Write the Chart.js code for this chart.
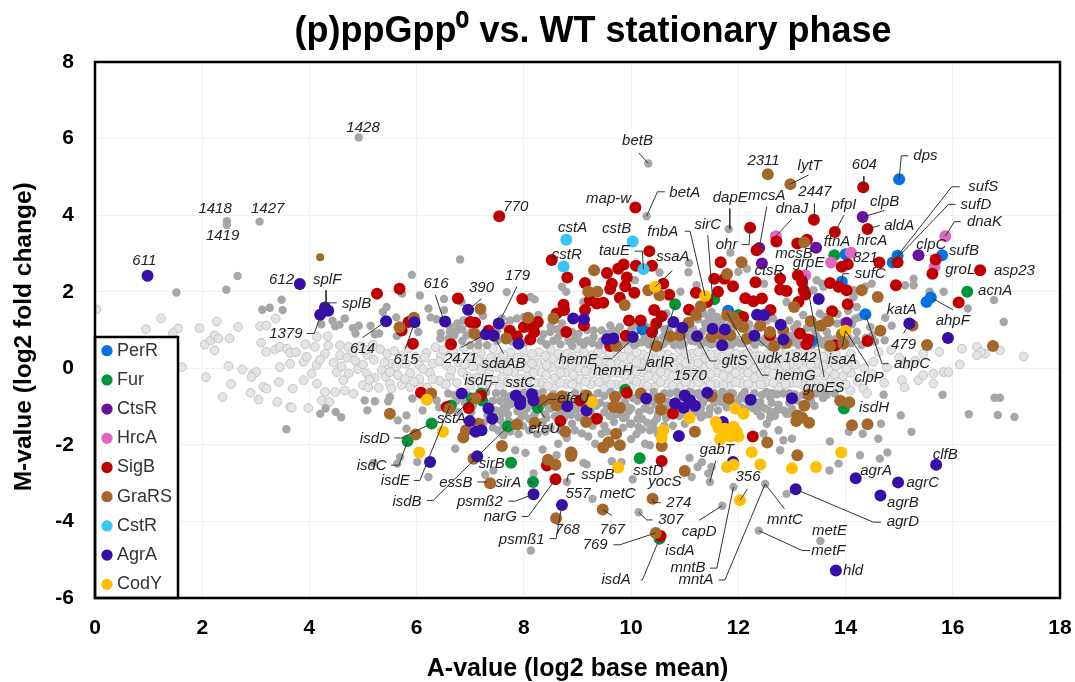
<!DOCTYPE html>
<html>
<head>
<meta charset="utf-8">
<title>(p)ppGpp0 vs. WT stationary phase</title>
<script src="https://cdn.jsdelivr.net/npm/chart.js@4"></script>
<style>
  body { margin: 0; background: #fff; }
  canvas { display: block; }
</style>
</head>
<body>
<canvas id="myChart" width="1075" height="682"></canvas>
<script>
// Values: [A-value, M-value]
const perR = [[15.0,4.94],[14.97,2.94],[14.88,2.76],[14.0,2.98],[15.8,2.95],[15.59,1.85],[15.51,1.73],[14.37,1.41],[13.93,2.26],[10.21,1.02],[11.81,1.5],[13.37,.71]];
const fur = [[13.79,2.95],[16.27,2.0],[10.82,1.67],[11.55,1.8],[12.0,1.39],[7.2,-.66],[7.22,-.84],[7.03,-.79],[6.64,-.97],[6.28,-1.44],[5.83,-1.9],[7.7,-1.52],[7.76,-2.47],[8.17,-2.97],[8.26,-1.03],[10.16,-2.35],[13.97,-1.05],[10.53,-4.45],[9.89,-.56]];
const ctsR = [[14.32,3.95],[12.39,3.14],[13.45,3.15],[12.44,2.74],[15.36,2.95],[14.02,1.19]];
const hrcA = [[12.7,3.45],[14.1,3.02],[13.73,2.76],[13.25,2.43],[15.86,3.45],[15.66,2.65]];
const sigB = [[7.54,3.97],[8.52,2.83],[8.81,2.37],[5.26,1.95],[5.68,2.08],[6.77,1.82],[7.97,1.81],[5.85,1.21],[5.72,.99],[5.93,.64],[6.64,.63],[7.0,1.21],[7.09,1.19],[7.34,.99],[7.74,.98],[7.87,.84],[8.0,1.08],[8.18,1.08],[8.26,1.21],[8.19,.95],[8.12,.75],[8.74,1.66],[8.61,1.43],[8.75,1.52],[8.79,.95],
  [14.33,4.73],[13.41,3.88],[14.41,3.64],[13.8,3.56],[12.22,3.67],[10.08,4.2],[12.34,3.08],[12.71,3.31],[13.1,3.26],[13.28,3.36],[10.34,3.06],[10.09,2.68],[10.39,2.68],[9.86,2.71],[9.76,2.6],[9.55,2.49],[9.64,2.21],[9.61,2.07],[9.14,2.23],[9.92,2.37],[9.89,2.14],[10.06,1.97],[9.79,1.84],[10.6,2.21],[10.71,1.92],[11.67,2.77],[11.55,2.34],[11.74,2.34],[11.9,2.14],[11.62,2.0],[11.21,1.97],[11.42,1.73],[12.13,1.83],[12.28,1.75],[12.44,1.82],[12.32,2.25],[12.78,2.34],[12.78,2.06],[12.9,2.02],[13.11,2.43],[13.19,2.26],[13.22,2.04],[13.25,1.93],[13.12,1.73],[13.71,2.23],[13.87,2.13],[14.02,2.04],[13.93,2.65],[14.04,2.72],[14.63,2.76],[14.97,2.77],[14.94,2.17],[15.68,2.84],[15.62,2.47],[16.51,2.56],[16.11,1.72],[14.04,1.67],[13.75,1.49],[12.6,1.52],[12.09,1.34],[11.08,1.53],[10.43,1.52],[10.57,1.36],[10.47,1.17],[10.39,.95],[9.96,1.25],[10.18,1.25],[9.9,.85],[9.14,1.52],[9.12,1.12],[9.36,1.69],[9.23,1.78],[9.48,1.71],[9.61,.58],[13.15,.91],[13.31,.75],[13.27,.63],[13.81,.6],[14.41,.71],[12.59,.86],
  [6.08,-.64],[6.56,-1.01],[6.97,-1.04],[7.2,-.72],[8.68,-1.38],[8.43,-2.54],[8.59,-2.9],[9.92,-.64],[9.05,-.84],[9.36,-1.32],[10.78,-1.18],[10.57,-2.42],[12.27,-1.78],[10.55,-4.38]];
const graRS = [[5.95,1.32],[5.68,1.07],[7.19,1.55],[7.08,.90],[7.67,.78],[8.08,1.32],[8.55,1.30],
  [12.55,5.07],[12.97,4.81],[13.23,3.29],[12.06,2.77],[11.79,2.46],[9.31,2.56],[9.2,2.0],[9.37,2.0],[9.88,1.65],[10.32,2.04],[10.53,1.91],[11.3,1.62],[11.21,1.39],[11.07,1.19],[10.91,.86],[10.73,.84],[10.47,.58],[11.79,1.39],[11.91,1.32],[11.98,1.17],[12.09,1.08],[12.16,.78],[12.67,.58],[12.41,1.11],[12.59,.95],[12.9,.66],[12.84,.99],[11.5,.82],[11.85,.86],[11.69,.86],[13.04,1.6],[13.35,1.23],[13.54,1.11],[13.68,1.23],[13.71,.58],[14.3,2.04],[14.6,1.86],[14.65,.98],[13.93,.89],[13.96,.64],[15.25,1.12],[15.52,.61],[16.75,.58],[9.72,.58],
  [6.27,-.66],[5.5,-1.19],[6.61,-1.06],[7.1,-.78],[5.98,-1.73],[7.15,-1.45],[6.92,-1.62],[6.87,-1.81],[7.87,-1.47],[8.2,-1.42],[7.59,-2.03],[7.06,-2.36],[7.37,-3.0],[8.45,-2.39],[8.59,-2.52],[8.6,-3.92],[8.77,-1.66],[8.88,-2.19],[8.88,-2.29],[8.36,-.84],[8.52,-.79],[8.71,-.73],[8.61,-.97],
  [9.17,-.71],[9.7,-.75],[9.67,-1.01],[9.79,-1.03],[10.18,-.66],[10.54,-.79],[10.56,-1.08],[9.16,-1.4],[8.89,-2.23],[9.72,-1.71],[9.58,-1.93],[9.48,-2.07],[9.79,-2.01],[10.57,-2.03],[11.19,-1.66],[11.82,-.79],[11.5,-.73],[12.54,-1.94],[13.1,-2.27],[11.0,-2.68],[10.4,-3.41],[9.47,-3.69],[10.46,-4.3],[13.23,-.98],[13.31,-.69],[13.9,-.85],[14.07,-.89],[13.1,-1.23],[13.19,-1.29],[13.08,-1.38],[13.32,-1.42],[14.12,-1.49],[14.41,-1.46]];
const cstR = [[8.79,3.36],[8.74,2.66],[10.03,3.31],[10.23,2.59]];
const agrA = [[.98,2.42],[3.82,2.20],[4.29,1.59],[4.35,1.50],[4.2,1.40],[5.43,1.23],[5.96,1.20],[6.53,1.22],[6.96,1.53],[7.53,1.17],[7.29,.89],[7.44,.85],[7.90,.64],[8.92,1.30],
  [15.19,1.17],[15.91,.79],[13.5,1.81],[9.12,1.28],[9.55,.76],[9.67,.78],[10.03,.82],[10.79,1.21],[10.96,1.06],[11.23,.84],[11.52,1.03],[11.75,1.01],[11.7,.6],[12.35,1.4],[12.48,1.39],[12.3,.85],[12.79,1.14],[12.84,.75],
  [6.84,-.66],[7.34,-1.05],[7.41,-1.32],[6.99,-1.38],[7.1,-1.66],[7.21,-1.62],[6.25,-2.45],[7.13,-2.3],[7.85,-.71],[7.93,-.84],[7.93,-.94],[8.15,-.68],[8.18,-.84],[8.81,-.99],[8.18,-3.29],[8.71,-3.57],
  [9.17,-1.1],[10.28,-.79],[11.0,-.71],[10.82,-.92],[10.98,-1.03],[11.1,-.84],[11.19,-.98],[11.42,-.64],[12.23,-.82],[13.0,-.78],[10.89,-1.77],[11.9,-2.45],[13.07,-3.16],[14.19,-2.87],[14.65,-3.32],[14.98,-2.98],[15.69,-2.52],[13.82,-5.28],[11.71,-1.4]];
const codY = [[10.45,2.13],[11.38,1.89],[14.0,.98],[6.19,-.82],[6.49,-1.66],[6.05,-2.2],[9.27,-.88],[11.09,-1.3],[11.94,-1.05],[12.1,-1.19],[11.58,-1.4],[11.63,-1.56],[11.75,-1.58],[11.91,-1.53],[12.0,-1.78],[11.85,-1.78],[11.66,-1.86],[11.73,-1.71],[10.6,-1.62],[10.57,-1.81],[12.25,-2.19],[12.41,-2.51],[13.92,-2.2],[13.0,-2.61],[13.45,-2.58],[9.76,-2.59],[11.79,-2.58],[11.91,-2.52],[12.03,-3.45],[11.97,-1.66]];
const smallGraRS = [[4.2,2.9]];

const grey = [[4.92,6.03],[2.46,3.84],[2.46,3.74],[3.07,3.83],[2.66,2.41],[2.45,2.05],[1.52,1.98],[3.48,1.79],[3.12,1.53],[3.26,1.58],[3.5,1.52],[5.91,2.44],[6.81,2.84],[5.73,1.95],[6.06,1.9],[7.68,1.99],[6.51,1.81],[6.22,1.56],[6.51,1.52],[5.44,1.6],[5.37,1.47],[5.62,1.33],[4.43,1.24],[4.56,1.14],[4.48,1.1],[4.66,1.3],[4.22,1.15],[4.81,1.05],[4.92,1.11],[4.86,.91],[5.14,1.11],[5.22,.89],[5.3,.91],[5.63,.84],[6.03,.95],[6.26,1.33],[6.37,1.28],[6.5,1.25],[6.84,1.73],[6.87,1.25],[7.24,1.37],[6.76,1.17],[6.75,.99],[6.45,.92],[6.44,.78],[6.62,.95],[6.59,.78],[6.93,.86],[7.0,.6],[7.15,.6],[7.31,.6],[7.59,1.3],[7.74,1.25],[7.87,1.3],[8.0,1.34],[7.62,1.12],[8.12,1.86],[8.2,1.8],[8.27,1.39],[8.36,.89],[8.49,.95],[8.64,.82],[8.71,2.13],[8.79,2.0],[8.71,1.17],[8.83,.71],
  [10.32,5.35],[10.29,3.97],[11.82,3.64],[11.85,3.02],[11.08,2.75],[11.07,2.51],[10.53,2.5],[10.07,2.3],[15.27,2.34],[15.27,2.17],[15.11,2.17],[15.57,2.0],[15.83,2.0],[16.77,1.78],[16.28,1.56],[16.95,1.21],[14.74,1.32],[14.86,1.11],[14.73,.73],[13.46,2.3],[13.56,2.21],[14.49,2.21],[14.37,2.13],[14.15,2.04],[14.15,1.86],[13.59,2.13],[13.4,2.04],[9.11,1.73],[9.3,.99],[9.3,.82],[9.61,1.12],[9.67,.99],[10.92,2.0],[11.22,2.17],[12.0,2.52],[12.16,2.6],[12.48,2.21],[12.9,1.73],[14.21,1.6],[14.27,1.34],[14.46,1.08],[14.21,.95],[13.52,1.43],[13.21,1.39],[13.84,1.17],[13.65,.95],[12.53,1.25],[11.35,1.43],[11.5,1.47],[11.6,1.34],[11.38,1.17],[11.53,1.21],[10.66,1.43],[10.29,1.08],[9.79,1.08],[9.45,.99],[9.05,.69],
  [8.42,.62],[8.68,.63],[8.95,.77],[9.12,.62],[9.28,.66],[9.45,.71],[9.84,.63],[10.06,.61],[10.2,.68],[10.33,.62],[10.62,.66],[10.8,.61],[10.98,.63],[11.12,.72],[11.3,.62],[11.43,.67],[11.62,.63],[11.88,.62],[12.02,.66],[12.31,.62],[12.45,.68],[12.58,.63],[12.76,.62],[13.03,.68],[13.12,.62],[13.44,.66],[13.58,.62],[14.1,.65],[14.3,.61],[11.03,.93],[11.16,1.02],[11.32,.95],[11.4,1.05],[11.63,1.12],[11.9,1.05],[12.18,.98],[12.34,1.05],[13.0,.85],[13.04,1.05],[13.45,.86],[13.62,.72],[13.95,1.2],[14.18,1.3],[14.05,.8],[14.5,.87],[14.55,.7],
  [3.57,-1.59],[4.2,-1.19],[4.3,-1.05],[4.49,-1.14],[4.59,-1.28],[5.03,-.84],[5.22,-.86],[5.08,-1.1],[5.5,-.75],[5.47,-.86],[5.92,-.79],[5.65,-1.36],[5.81,-1.23],[5.81,-1.58],[6.11,-1.1],[6.37,-.84],[6.59,-.66],[6.75,-.84],[6.72,-2.1],[5.69,-2.32],[5.64,-2.49],[5.19,-2.47],[6.01,-2.45],[6.22,-2.84],[7.28,-2.78],[7.43,-2.67],[7.84,-2.14],[8.03,-2.21],[8.18,-2.75],[8.35,-2.12],[8.64,-1.97],[8.61,-2.27],[8.8,-2.97],[8.13,-4.76],
  [6.42,-1.02],[6.78,-1.15],[6.9,-.9],[7.02,-1.15],[7.48,-.65],[7.55,-.85],[7.62,-1.03],[7.7,-1.2],[7.48,-1.1],[7.56,-1.35],[7.42,-1.55],[7.62,-1.48],[7.75,-.72],[7.78,-.92],[7.88,-1.12],[7.96,-1.25],[8.06,-1.05],[8.1,-1.62],[7.9,-1.72],[7.75,-1.65],[8.25,-1.72],[8.4,-1.2],[8.5,-1.05],[8.58,-1.25],[8.7,-.92],[8.82,-1.18],[8.95,-.65],[9.05,-1.05],[9.02,-1.28],[8.9,-1.45],[8.95,-1.62],[9.08,-1.7],[9.2,-1.02],[9.38,-.65],[9.42,-.9],[9.5,-1.15],[9.4,-1.3],[9.5,-1.5],[9.6,-1.25],[9.85,-1.3],[9.95,-1.12],[10.03,-.78],[9.98,-1.45],[10.1,-1.72],[10.0,-1.85],[10.3,-.9],[10.35,-1.1],[10.3,-1.42],[10.42,-1.58],[10.48,-1.32],[10.72,-.66],[10.68,-.88],[10.65,-1.3],[10.78,-1.5],[10.9,-1.25],[11.0,-1.45],[11.08,-.62],[11.25,-.65],[11.34,-.9],[11.2,-1.15],[11.55,-.9],[11.7,-.62],[11.62,-1.1],[11.78,-1.02],[11.9,-.66],[11.98,-.9],[12.07,-.7],[12.3,-.66],[12.44,-.7],[12.5,-1.05],[12.72,-.68],[12.75,-.95],[12.68,-1.25],[12.85,-1.1],[13.0,-1.05],[13.2,-.7],[13.45,-.66],[13.58,-.78],
  [11.47,-2.97],[11.7,-3.59],[11.91,-3.1],[10.14,-3.76],[9.28,-3.41],[12.5,-3.02],[12.9,-3.28],[12.38,-4.24],[13.53,-4.51],[13.71,-1.91],[14.27,-2.27],[14.64,-2.36],[14.78,-2.2],[13.87,-2.49],[13.7,-2.67],[14.61,-1.84],[14.32,-1.71],[14.06,-1.66],[14.66,-1.45],[15.03,-1.23],[15.23,-1.66],[15.81,-.69],[14.71,-.69],[16.3,-1.2],[16.78,-.77],[16.88,-.77],[16.84,-1.22],[17.15,-1.27],[9.11,-2.47],[9.17,-2.51],[9.64,-2.43],[9.82,-2.45],[10.03,-2.9],[10.26,-1.97],[10.35,-2.01],[11.09,-2.34],[11.13,-2.84],[11.24,-2.58],[11.32,-2.45],[11.44,-2.75],[11.5,-2.58],[12.78,-2.14],[13.0,-1.84],[12.84,-1.88],[12.75,-1.62],[12.53,-1.45],[12.59,-1.29],[12.47,-1.71],[9.33,-1.97],[9.45,-1.71],[10.14,-1.53],[10.0,-1.45],[9.9,-1.27],[10.2,-1.32],[10.35,-1.62],[12.41,-.88],[11.35,-1.23],[11.47,-1.05],[11.29,-.75],[12.59,-.75],[12.84,-.66],[13.65,-.69],[12.9,-1.19],[13.09,-.84]];

// the solid part of the grey bands, above and below the middle
const greyBand = [[8.55,.72],[8.9,.58],[9.18,.72],[9.4,.6],[9.55,.9],[9.78,.62],[9.95,.72],[10.12,.66],[10.25,.85],[10.45,.75],[10.6,.82],[10.58,.62],[10.72,.72],[10.85,.7],[10.92,.6],[11.08,.82],[11.2,.7],[11.28,.82],[11.38,.72],[11.5,.62],[11.58,.92],[11.72,.72],[11.8,.6],[11.95,.75],[12.1,.65],[12.22,.72],[12.38,.72],[12.5,.78],[12.68,.72],[12.85,.6],[12.95,.75],[13.1,.75],[13.25,.82],[13.38,.6],[13.5,.76],[13.68,.8],[13.8,.75],[13.92,.62],[14.2,.74],[14.38,.8],[10.1,1.12],[10.7,1.05],[10.88,1.1],[11.25,1.28],[11.45,1.32],[11.7,1.25],[11.85,1.15],[12.2,1.15],[12.65,1.3],[12.95,1.25],[13.1,1.15],[13.28,1.05],[13.42,1.0],[13.6,1.35],[13.85,1.42],[14.05,1.5],[14.12,1.15],
  [7.3,-.62],[7.62,-.66],[7.68,-.85],[8.0,-.64],[8.02,-.85],[8.35,-.62],[8.45,-1.0],[8.28,-1.02],[8.2,-1.2],[8.35,-1.4],[8.5,-1.55],[8.75,-1.3],[8.95,-.88],[9.15,-.85],[9.25,-1.15],[9.12,-1.28],[9.28,-1.5],[9.62,-.62],[9.78,-.7],[9.88,-.88],[9.8,-1.2],[10.0,-1.05],[10.12,-.85],[10.15,-1.15],[10.42,-.62],[10.45,-.95],[10.5,-1.2],[10.62,-.65],[10.85,-.62],[10.82,-1.1],[10.98,-.85],[11.12,-1.08],[11.0,-1.2],[11.15,-.65],[11.42,-.78],[11.45,-1.2],[11.55,-.65],[11.62,-.78],[11.85,-.65],[11.85,-.9],[12.12,-.62],[12.2,-1.0],[12.32,-.9],[12.35,-1.12],[12.52,-.62],[12.62,-.9],[12.42,-1.25],[12.95,-.65],[13.05,-.68],[12.95,-.9],[13.35,-.84],[13.42,-.98],[13.6,-.64],[13.8,-.66],[10.62,-1.5],[10.5,-1.72],[10.2,-1.6],[9.3,-1.3],[9.68,-1.4],[9.55,-1.65],[9.2,-1.78],[8.8,-1.82],[8.4,-1.65],[7.98,-1.5],[8.1,-1.32],[7.62,-1.75],
  [6.7,-.7],[6.95,-.7],[7.05,-.98],[7.28,-.9],[7.32,-1.22],[7.25,-1.42],[7.42,-.85],[7.4,-1.1],[7.68,-1.02],[7.58,-1.18],[7.72,-1.38],[7.52,-1.62],[7.88,-.68],[7.9,-1.38],[8.0,-1.18],[8.12,-.62],[8.1,-.98],[8.22,-.65],[8.3,-.82],[8.42,-1.3],[8.55,-.68],[8.68,-1.12],[8.68,-1.62],[8.78,-.7],[8.85,-.85],[8.98,-1.08],[8.88,-1.22],[9.12,-.66],[9.28,-.78],[9.35,-.98],[9.5,-.72],[9.55,-.98],[9.68,-.68],[9.72,-1.2],[9.85,-1.55],[9.92,-1.0],[10.12,-1.32],[10.18,-.72],[10.25,-1.05],[10.4,-.78],[10.42,-1.42],[10.62,-1.12],[10.72,-1.05],[10.88,-.72],[10.9,-1.05],[11.02,-1.05],[11.1,-1.25],[11.3,-1.05],[11.4,-.65],[11.3,-1.28],[11.68,-.88],[11.75,-.75],[12.02,-.8],[12.05,-1.02],[12.15,-.82],[12.28,-1.05],[12.42,-1.0],[12.62,-.65],[12.58,-1.12],[12.72,-1.1],[12.95,-1.18],[6.62,1.1],[6.7,.86],[6.85,1.02],[6.85,.72],[7.02,.95],[7.15,.78],[7.5,1.0],[7.5,.72],[7.78,.7],[8.32,.72],[8.02,.68],[8.5,1.1],[8.62,1.02],[8.9,.95],[9.02,.9],[9.18,1.0],[9.55,.68],[9.72,.92],[10.0,1.0],[10.32,.75],[10.62,1.02],[10.9,1.02]];

const light = [[.03,1.54],[1.23,1.30],[.95,1.02],[1.55,1.04],[1.45,.92],[1.95,1.05],[2.27,1.22],[2.67,1.08],[3.08,1.10],[3.2,1.12],[3.37,1.30],[2.05,.62],[2.16,.73],[2.23,.86],[2.3,.78],[2.51,.78],[2.23,.47],[3.1,.67],[3.19,.43],[3.36,.49],[3.45,.56],[3.58,.51],[3.64,.4],[3.92,.63],[4.1,.56],[4.14,.82],[4.35,.6],[4.34,.84],[4.29,.38],[4.57,.6],[4.73,.56],[4.57,.34],[4.7,.28],[4.95,.58],[5.08,.35],
  [2.49,.06],[2.75,-.03],[3.45,.03],[3.64,.12],[3.89,.17],[4.13,.08],[1.62,.03],[2.07,-.23],[2.95,-.14],[3.01,-.1],[2.92,-.23],[2.54,-.41],[2.38,-.75],[2.9,-.64],[3.05,-.82],[3.14,-.49],[3.2,-.53],[3.43,-.36],[3.4,-.88],[3.64,-1.01],[3.67,-1.03],[3.98,-1.04],[3.69,-.53],[3.89,-.31],[4.04,-.14],[4.14,-.4],[4.23,-.84],[4.37,-.88],[4.29,-.62],[4.48,-.62],[4.66,-.58],[4.82,-.66],[4.73,-.14],[4.9,-.02],[4.51,-.1],[4.63,-.31],[5.07,-.14],[5.0,-.44],[5.1,-.5],[5.29,-.51],[5.5,-.4],[5.53,-.53],[5.72,-.44],[5.88,-.49],[6.06,-.44],[6.2,-.5],[6.5,-.4],
  [3.75,.42],[3.95,.3],[4.2,.22],[4.45,.15],[4.85,.2],[5.0,.1],[5.2,.22],[5.32,.5],[5.18,.62],[5.45,.38],[5.52,.12],[5.35,-.05],[5.22,-.25],[5.42,-.22],[5.65,-.18],[5.62,.05],[5.72,.32],[5.85,.52],[5.98,.3],[6.05,.08],[5.88,-.12],[6.05,-.28],[6.25,-.12],[6.3,.12],[6.18,.4],[6.35,.55],[6.45,.32],[6.55,.08],[6.62,-.2],[6.42,-.32],[6.75,-.38],[6.85,-.1],[6.78,.15],[6.68,.42],[6.88,.52],[7.0,.3],[7.05,.05],[7.1,-.25],[7.0,-.45],[7.3,-.42],[7.35,-.12],[7.25,.15],[7.2,.4],[7.42,.52],[7.5,.28],[7.52,.02],[7.6,-.22],[7.55,-.48],[7.8,-.4],[7.82,-.1],[7.72,.15],[7.75,.42],[7.98,.5],[8.02,.25],[8.05,.0],[8.08,-.22],[8.05,-.5],[8.3,-.38],[8.32,-.1],[8.25,.15],[8.28,.42],[8.5,.5],[8.55,.25],[8.52,.02],[8.58,-.25],[8.55,-.52],
  [8.8,-.4],[8.78,-.12],[8.75,.12],[8.8,.38],[9.0,.52],[9.05,.25],[9.02,.0],[9.05,-.28],[9.0,-.5],[9.25,-.42],[9.28,-.15],[9.22,.1],[9.28,.35],[9.48,.5],[9.52,.22],[9.5,-.02],[9.52,-.25],[9.5,-.52],[9.72,-.42],[9.75,-.12],[9.72,.12],[9.75,.38],[9.95,.5],[10.0,.25],[9.98,.02],[10.0,-.25],[9.98,-.5],[10.2,-.4],[10.22,-.12],[10.2,.12],[10.22,.36],[10.42,.48],[10.45,.22],[10.42,.0],[10.46,-.26],[10.42,-.5],[10.66,-.4],[10.68,-.14],[10.65,.1],[10.68,.36],[10.9,.5],[10.92,.24],[10.88,.0],[10.92,-.26],[10.9,-.5],[11.12,-.42],[11.15,-.12],[11.12,.12],[11.15,.38],[11.36,.5],[11.38,.25],[11.35,.02],[11.38,-.25],[11.35,-.5],[11.58,-.4],[11.6,-.12],[11.58,.12],[11.6,.38],[11.82,.48],[11.85,.22],[11.82,.0],[11.85,-.25],[11.82,-.48],[12.05,-.38],[12.08,-.12],[12.05,.12],[12.08,.36],[12.28,.5],[12.3,.22],[12.28,.0],[12.3,-.24],[12.28,-.48],[12.52,-.36],[12.55,-.1],[12.52,.14],[12.55,.38],[12.75,.46],[12.78,.2],[12.75,-.02],[12.78,-.26],[12.75,-.5],
  [12.98,-.38],[13.0,-.12],[12.98,.12],[13.0,.36],[13.22,.5],[13.25,.22],[13.22,.0],[13.25,-.25],[13.22,-.46],[13.45,-.38],[13.48,-.1],[13.45,.14],[13.48,.38],[13.68,.46],[13.72,.2],[13.68,-.05],[13.72,-.3],[13.85,-.52],[13.95,-.2],[13.9,.12],[14.1,.38],[14.18,.1],[14.1,-.12],[14.22,-.35],[14.09,-.58],[14.33,-.53],[14.4,-.66],[14.35,.0],[14.52,.17],[14.5,-.15],[14.77,.03],[14.62,.42],[14.85,.48],[15.0,.28],[15.12,.1],[14.72,-.38],[15.05,-.31],[15.1,-.5],[15.36,-.31],[15.45,-.18],[15.3,.2],[15.45,.38],[15.64,-.14],[15.64,-.4],[15.83,-.1],[15.92,-.1],[15.75,.43],[16.13,.1],[16.17,.51],[16.45,.56],[16.6,.38],[16.52,.42],[16.45,.34],[16.88,.47],[17.32,.31]];

// second pass over the dense middle of the light cloud
const lightBand = [[4.6,.05],[4.8,.42],[5.05,.48],[5.12,-.3],[5.4,.15],[5.58,.45],[5.5,-.1],[5.78,-.28],[5.8,.12],[5.95,-.35],[6.12,-.02],[6.15,.28],[6.3,-.28],[6.42,.18],[6.5,.48],[6.55,-.42],[6.65,-.05],[6.72,.28],[6.9,.1],[6.95,-.22],[7.12,.5],[7.15,.2],[7.2,-.05],[7.22,-.48],[7.38,.28],[7.42,.05],[7.45,-.32],[7.62,.35],[7.62,.1],[7.7,-.08],[7.7,-.35],[7.88,.28],[7.92,.05],[7.95,-.28],[7.95,-.48],[8.15,.38],[8.15,.12],[8.18,-.12],[8.2,-.38],[8.4,.32],[8.42,.08],[8.42,-.18],[8.45,-.45],[8.65,.38],[8.65,.12],[8.68,-.12],[8.68,-.38],[8.9,.3],[8.9,.08],[8.92,-.18],[8.9,-.42],[9.12,.42],[9.15,.15],[9.15,-.08],[9.15,-.35],[9.38,.42],[9.38,.18],[9.4,-.08],[9.4,-.36],[9.6,.4],[9.62,.12],[9.62,-.12],[9.62,-.42],[9.85,.3],[9.85,.06],[9.88,-.18],[9.85,-.44],[10.1,.42],[10.1,.16],[10.1,-.08],[10.1,-.34],[10.32,.3],[10.32,.05],[10.32,-.2],[10.3,-.46],[10.55,.4],[10.55,.12],[10.55,-.1],[10.55,-.36],[10.78,.28],[10.78,.04],[10.78,-.2],[10.78,-.46],[11.02,.38],[11.02,.14],[11.02,-.1],[11.02,-.36],[11.25,.42],[11.25,.14],[11.25,-.1],[11.25,-.36],[11.48,.36],[11.48,.1],[11.48,-.16],[11.48,-.42],[11.7,.3],[11.7,.06],[11.72,-.2],[11.72,-.44],[11.95,.38],[11.95,.12],[11.95,-.12],[11.95,-.36],[12.18,.4],[12.18,.12],[12.18,-.12],[12.18,-.4],[12.4,.32],[12.42,.08],[12.42,-.14],[12.42,-.42],[12.65,.36],[12.65,.08],[12.65,-.14],[12.65,-.38],[12.88,.34],[12.88,.06],[12.88,-.18],[12.88,-.42],[13.1,.4],[13.12,.14],[13.1,-.12],[13.1,-.38],[13.35,.34],[13.35,.1],[13.35,-.14],[13.35,-.42],[13.58,.3],[13.58,.06],[13.6,-.2],[13.55,-.48],[13.82,.36],[13.82,.06],[13.8,-.16],[13.85,-.36],[14.02,.22],[14.02,-.02],[14.0,-.42]];

const labelText = ['1428','1418','1427','1419','611','612','splF','splB','1379','614','615','616','390','179','770','2471','sdaAB',
  'betB','2311','lytT','604','dps','sufS','sufD','dnaK','map-w','betA','dapE','mcsA','2447','dnaJ','pfpI','clpB','aldA','sirC','fnbA','cstB','cstA','cstR','tauE','ssaA','ohr','ftnA','hrcA','clpC','sufB','821','mcsB','grpE','ctsR','sufC','groL','asp23','acnA','katA','ahpF','479',
  'hemE','hemH','arlR','1570','gltS','udk','1842','isaA','hemG','clpP','ahpC','groES','isdH',
  'isdF','sstC','efeU','efeU','sstA','isdD','isdC','isdE','isdB','sirB','essB','sirA','psmß2','narG','768','psmß1','557',
  'sspB','sstD','yocS','gabT','356','metC','274','767','307','capD','769','isdA','mntC','metE','metF','mntB','mntA','isdA','hld','agrA','agrC','agrB','agrD','clfB'];
const labelX = [5.0,2.24,3.22,2.38,.92,3.48,4.33,4.88,3.56,4.99,5.8,6.36,7.21,7.88,7.85,6.82,7.62,
  10.12,12.47,13.33,14.35,15.49,16.57,16.43,16.59,9.58,11.0,11.85,12.53,13.43,13.0,13.97,14.73,15.0,11.43,10.59,9.73,8.91,8.8,9.69,10.78,11.78,13.84,14.49,15.6,16.21,14.37,13.04,13.31,12.58,14.46,16.14,17.15,16.79,15.05,16.0,15.08,
  9.01,9.66,10.55,11.1,11.93,12.58,13.15,13.94,13.06,14.44,15.24,13.59,14.53,
  7.15,7.93,8.92,8.38,6.65,5.22,5.16,5.6,5.82,7.4,6.73,7.71,7.18,7.56,8.81,7.96,9.01,
  9.38,10.32,10.63,11.6,12.18,9.75,10.89,9.65,10.74,11.27,9.33,10.91,12.87,13.7,13.68,11.06,11.21,9.72,14.14,14.57,15.44,15.07,15.07,15.86];
const labelY = [6.29,4.17,4.17,3.47,2.8,2.3,2.32,1.69,.89,.51,.21,2.2,2.11,2.42,4.21,.25,.12,
  5.94,5.41,5.28,5.31,5.54,4.74,4.28,3.82,4.42,4.59,4.46,4.51,4.6,4.17,4.28,4.36,3.72,3.76,3.57,3.65,3.67,2.97,3.06,2.9,3.23,3.29,3.32,3.22,3.06,2.89,3.0,2.76,2.54,2.47,2.58,2.55,2.03,1.53,1.24,.6,
  .21,-.07,.15,-.2,.19,.24,.28,.21,-.2,-.25,.12,-.51,-1.04,
  -.34,-.37,-.81,-1.59,-1.32,-1.84,-2.54,-2.93,-3.48,-2.49,-2.98,-2.98,-3.48,-3.89,-4.21,-4.47,-3.29,
  -2.77,-2.67,-2.97,-2.12,-2.84,-3.29,-3.52,-4.22,-3.96,-4.28,-4.61,-4.78,-3.97,-4.24,-4.76,-5.22,-5.53,-5.53,-5.28,-2.68,-2.99,-3.52,-4.01,-2.25];

// leader lines between a label and its gene
const leaders = [
  [[4.31,2.04],[4.31,1.56]], [[4.35,1.71],[4.51,1.71]], [[3.95,.91],[4.09,.91],[4.2,1.34]], [[4.99,.8],[5.43,1.23]], [[5.79,.51],[5.96,1.2]], [[6.35,1.91],[6.51,1.23]], [[7.21,1.82],[6.96,1.52]], [[7.87,2.13],[7.53,1.17]], [[6.82,.54],[7.29,.89]], [[7.62,.38],[7.44,.85]],
  [[10.14,5.63],[10.32,5.35]], [[10.63,4.61],[10.49,4.61],[10.29,3.97]], [[15.17,5.55],[15.04,5.55],[15.0,4.94]], [[14.34,5.02],[14.34,4.73]], [[13.31,5.05],[12.97,4.81]], [[13.42,4.3],[13.42,3.88]], [[13.97,4.0],[13.8,3.56]], [[14.72,4.12],[14.32,3.95]], [[14.64,3.73],[14.41,3.64]],
  [[16.13,4.74],[15.98,4.74],[14.97,2.94]], [[16.05,4.28],[15.92,4.28],[14.88,2.76]], [[16.15,3.83],[16.03,3.83],[15.86,3.45]], [[11.84,4.17],[11.84,3.64]], [[12.53,4.22],[12.39,3.14]], [[13.0,3.9],[12.7,3.45]], [[12.06,3.23],[12.2,3.23],[12.22,3.67]], [[11.43,3.48],[11.52,1.8]], [[11.0,3.58],[11.1,3.58],[11.38,1.89]], [[10.07,3.06],[10.21,3.06],[10.23,2.59]], [[10.77,2.55],[10.45,2.13]], [[14.07,2.47],[13.95,2.47],[13.93,2.26]], [[16.0,1.53],[15.59,1.85]], [[15.08,.91],[15.19,1.17]],
  [[13.25,2.43],[13.6,-.23]], [[9.48,.25],[9.64,.25],[10.21,1.02]], [[10.11,-.05],[10.25,-.05],[10.57,1.36]], [[10.55,.47],[10.82,1.67]], [[11.08,.12],[10.96,1.06]], [[11.6,.19],[11.47,.19],[11.23,.84]], [[12.56,-.18],[12.44,-.18],[11.79,1.45]], [[12.59,.47],[12.3,.85]], [[13.94,.56],[14.0,.98]], [[14.43,.05],[14.0,.98]], [[14.8,.12],[14.68,.12],[14.37,1.41]],
  [[7.52,-.37],[7.4,-.37],[7.22,-.84]], [[8.61,-.81],[8.46,-.81],[8.26,-1.03]], [[8.39,-1.29],[8.26,-1.03]], [[6.75,-1.17],[7.03,-.79]], [[5.58,-1.82],[5.72,-1.82],[6.28,-1.44]], [[5.52,-2.53],[5.67,-2.53],[5.83,-1.9]], [[5.95,-2.93],[6.06,-2.93],[6.62,-.97]], [[6.19,-3.45],[6.31,-3.45],[7.7,-1.52]], [[7.13,-2.97],[7.31,-2.97]], [[8.08,-2.97],[8.17,-2.97]], [[7.71,-3.47],[7.84,-3.47],[8.18,-3.29]], [[7.96,-3.87],[8.08,-3.87],[8.59,-2.9]], [[8.48,-4.45],[8.6,-4.45],[8.71,-3.57]], [[8.94,-2.77],[8.83,-2.77],[8.8,-2.97]], [[8.86,-2.75],[8.95,-2.75]],
  [[11.58,-2.41],[11.47,-2.97]], [[12.17,-3.15],[12.03,-3.45]], [[10.55,-3.51],[10.42,-3.51],[10.4,-3.41]], [[9.64,-3.84],[9.47,-3.69]], [[10.4,-3.96],[10.29,-3.96],[10.14,-3.76]], [[11.27,-3.97],[11.7,-3.59]], [[9.67,-4.61],[9.79,-4.61],[10.46,-4.3]], [[10.18,-5.53],[10.21,-5.53],[10.53,-4.45]], [[11.47,-5.22],[11.6,-5.22],[11.91,-3.1]], [[11.63,-5.53],[11.75,-5.53],[12.5,-3.02]], [[12.86,-3.67],[12.5,-3.02]], [[13.34,-4.76],[13.19,-4.76],[12.38,-4.24]], [[14.66,-4.02],[14.52,-4.02],[13.07,-3.16]]
];

const xTicksMax = 18, yTicksMin = -6, yTicksMax = 8;
const legendNames = ['PerR', 'Fur', 'CtsR', 'HrcA', 'SigB', 'GraRS', 'CstR', 'AgrA', 'CodY'];
const fontName = '"Liberation Sans", Arial, sans-serif';

function toPoints(list) {
  return list.map(p => ({ x: p[0], y: p[1] }));
}

// the polylines become one line with gaps
var leaderPoints = [];
leaders.forEach(line => {
  line.forEach(p => leaderPoints.push({ x: p[0], y: p[1] }));
  leaderPoints.push({ x: NaN, y: NaN });
});

function colourSet(label, list, colour, order) {
  return { label: label, data: toPoints(list), backgroundColor: colour, borderColor: colour, borderWidth: 0, pointRadius: 6, pointStyle: 'circle', order: order };
}

const framePlugin = {
  id: 'frame',
  afterLayout(chart) {
    // title sits right of centre, legend in the lower left corner
    chart.titleBlock.left = 126;
    chart.legend.left = 94.8;
    chart.legend.top = 330.5;
    chart.legend.bottom = 640;
  },
  afterDatasetsDraw(chart) {
    const ctx = chart.ctx, a = chart.chartArea, xs = chart.scales.x, ys = chart.scales.y;
    ctx.save();
    ctx.font = 'italic 15px ' + fontName;
    ctx.fillStyle = '#222';
    ctx.textAlign = 'center';
    ctx.textBaseline = 'middle';
    labelText.forEach((t, i) => {
      ctx.fillText(t, xs.getPixelForValue(labelX[i]), ys.getPixelForValue(labelY[i]));
    });
    ctx.fillStyle = '#fff';
    ctx.fillRect(a.left, 337, 83, a.bottom - 337);
    ctx.restore();
    // legend is a z 0 box, so it has to come again over the white
    chart.legend.draw();
    ctx.save();
    ctx.strokeStyle = '#000';
    ctx.lineWidth = 2.5;
    ctx.strokeRect(a.left, 337, 83, a.bottom - 337);
    ctx.strokeRect(a.left, a.top, a.right - a.left, a.bottom - a.top);
    ctx.restore();
  }
};

var myChart = new Chart(document.getElementById('myChart'), {
  type: 'scatter',
  plugins: [framePlugin],
  data: {
    datasets: [
      colourSet('PerR', perR, '#0073e6', 10),
      colourSet('Fur', fur, '#009639', 9),
      colourSet('CtsR', ctsR, '#6a0f9e', 8),
      colourSet('HrcA', hrcA, '#e066c2', 7),
      colourSet('SigB', sigB, '#c00000', 6),
      colourSet('GraRS', graRS, '#a5682a', 5),
      colourSet('CstR', cstR, '#36c5f4', 4),
      colourSet('AgrA', agrA, '#370fa8', 3),
      colourSet('CodY', codY, '#ffc000', 2),
      { label: 'GraRS small', data: toPoints(smallGraRS), backgroundColor: '#a5682a', borderWidth: 0, pointRadius: 4, order: 11 },
      { label: 'significant', data: toPoints(grey.concat(greyBand)), backgroundColor: '#a6a6a6', borderWidth: 0, pointRadius: 4.2, order: 12 },
      { label: 'not significant', data: toPoints(light.concat(lightBand)), backgroundColor: '#e4e4e4', borderColor: '#c4c4c4', borderWidth: 1, pointRadius: 4.4, order: 13 },
      { label: 'leaders', data: leaderPoints, showLine: true, spanGaps: false, borderColor: '#333', borderWidth: 1, pointRadius: 0, order: 1 }
    ]
  },
  options: {
    responsive: false,
    animation: false,
    layout: { padding: { right: 15 } },
    plugins: {
      title: {
        display: true,
        text: '(p)ppGpp\u2070 vs. WT stationary phase',
        color: '#000',
        font: { family: fontName, size: 36, weight: 'bold', lineHeight: 1.2 },
        padding: { top: 10, bottom: 8.8 }
      },
      legend: {
        position: 'chartArea',
        align: 'start',
        labels: {
          usePointStyle: true,
          pointStyle: 'circle',
          boxWidth: 2,
          boxHeight: 8,
          padding: 11.2,
          color: '#333',
          font: { family: fontName, size: 18 },
          filter: item => legendNames.includes(item.text),
          sort: (a, b) => a.datasetIndex - b.datasetIndex
        }
      },
      tooltip: { enabled: false }
    },
    scales: {
      x: {
        type: 'linear',
        min: 0,
        max: xTicksMax,
        afterFit: scale => { scale.height = 84; scale.paddingRight = 0; scale.paddingLeft = 0; },
        ticks: { stepSize: 2, color: '#000', padding: 18, maxRotation: 0, font: { family: fontName, size: 21, weight: 'bold' } },
        grid: { color: '#f1f1f1', drawTicks: false },
        border: { display: false },
        title: { display: true, text: 'A-value (log2 base mean)', color: '#000', padding: 0, font: { family: fontName, size: 25, weight: 'bold', lineHeight: 1 } }
      },
      y: {
        min: yTicksMin,
        max: yTicksMax,
        afterFit: scale => { scale.width = 95; },
        ticks: { stepSize: 2, color: '#000', padding: 21, font: { family: fontName, size: 21, weight: 'bold' } },
        grid: { color: '#f1f1f1', drawTicks: false },
        border: { display: false },
        title: { display: true, text: 'M-value (log2 fold change)  ', color: '#000', padding: { top: 10, bottom: 0 }, font: { family: fontName, size: 24.5, weight: 'bold', lineHeight: 1.2 } }
      }
    }
  }
});
</script>
</body>
</html>
